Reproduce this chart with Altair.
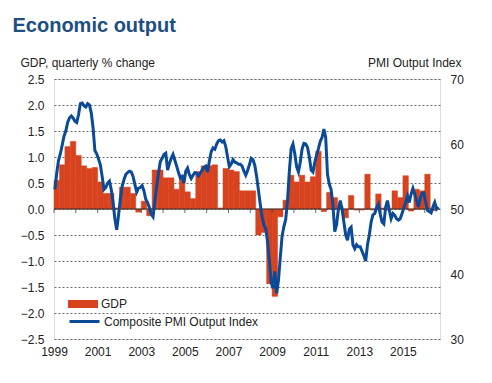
import altair as alt
import pandas as pd

FONT = "Liberation Sans"

# GDP, quarterly % change, 1999Q1 .. 2016Q2
gdp = [
    0.55, 0.85, 1.20, 1.30,   # 1999
    1.03, 0.83, 0.78, 0.80,   # 2000
    0.52, 0.30, 0.30, 0.02,   # 2001
    0.42, 0.42, 0.30, -0.06,  # 2002
    0.15, -0.13, 0.75, 0.75,  # 2003
    0.60, 0.60, 0.38, 0.65,   # 2004
    0.33, 0.20, 0.72, 0.83,   # 2005
    0.83, 0.85, 0.02, 0.78,   # 2006
    0.75, 0.72, 0.35, 0.35,   # 2007
    0.35, -0.50, -0.45, -1.44,  # 2008
    -1.68, -0.15, 0.17, 0.65,  # 2009
    0.52, 0.65, 0.52, 0.62,   # 2010
    1.11, -0.05, 0.32, 0.22,  # 2011
    0.05, -0.17, 0.26, -0.02,  # 2012
    -0.02, 0.67, -0.02, 0.29,  # 2013
    0.02, -0.02, 0.35, 0.22,  # 2014
    0.64, -0.04, 0.38, 0.35,  # 2015
    0.67, -0.03,              # 2016
]

# Composite PMI Output Index, monthly, Jan 1999 .. Aug 2016
pmi_1999 = [53.0, 55.5, 57.5, 58.5, 59.8, 61.2, 62.0, 63.3, 64.0, 64.3, 64.0, 63.5]
pmi_2000 = [63.3, 64.5, 66.2, 66.3, 65.9, 65.7, 66.2, 66.0, 64.8, 62.5, 59.0, 58.5]
pmi_2001 = [57.7, 56.8, 55.0, 53.0, 53.3, 54.0, 54.3, 53.0, 51.0, 48.5, 46.8, 49.0]
pmi_2002 = [51.5, 53.5, 54.5, 55.3, 55.6, 55.8, 55.7, 55.0, 53.8, 52.6, 53.2, 53.3]
pmi_2003 = [53.6, 52.8, 51.5, 51.0, 50.2, 49.2, 48.8, 51.2, 53.5, 55.5, 57.3, 57.8]
pmi_2004 = [58.4, 58.6, 56.0, 57.0, 57.8, 58.4, 57.5, 56.6, 55.6, 54.8, 55.0, 54.0]
pmi_2005 = [55.8, 56.3, 55.3, 54.7, 55.2, 55.6, 55.5, 55.1, 55.5, 56.0, 56.4, 56.6]
pmi_2006 = [55.7, 57.4, 58.8, 59.4, 59.2, 60.0, 60.5, 60.6, 60.3, 60.5, 59.6, 58.0]
pmi_2007 = [56.5, 56.9, 57.6, 57.2, 57.1, 56.9, 56.9, 56.6, 55.8, 55.2, 55.9, 56.8]
pmi_2008 = [57.8, 57.6, 56.7, 55.0, 52.9, 50.7, 48.8, 47.5, 47.0, 45.0, 42.0, 38.7]
pmi_2009 = [37.8, 40.4, 37.0, 39.0, 42.5, 45.8, 47.3, 48.4, 51.3, 55.8, 59.3, 60.0]
pmi_2010 = [58.5, 56.5, 55.7, 57.2, 59.2, 60.1, 60.0, 59.5, 58.0, 56.0, 55.7, 57.2]
pmi_2011 = [58.3, 59.3, 60.4, 61.0, 62.3, 61.0, 55.3, 53.8, 53.0, 50.5, 46.5, 47.6]
pmi_2012 = [50.0, 51.3, 50.0, 48.0, 46.0, 45.2, 46.9, 47.2, 44.5, 43.9, 44.5, 44.2]
pmi_2013 = [44.2, 43.5, 42.8, 42.0, 44.5, 46.0, 48.0, 49.1, 49.3, 50.2, 50.7, 49.2]
pmi_2014 = [48.0, 47.7, 50.3, 51.3, 49.8, 48.5, 49.3, 49.0, 48.5, 48.3, 48.5, 49.3]
pmi_2015 = [50.2, 51.0, 52.0, 51.0, 52.3, 53.2, 52.3, 51.3, 50.3, 51.6, 52.4, 52.5]
pmi_2016 = [51.0, 49.8, 49.6, 49.4, 50.3, 51.0, 50.0, 50.3]

pmi = (pmi_1999 + pmi_2000 + pmi_2001 + pmi_2002 + pmi_2003 + pmi_2004 + pmi_2005
       + pmi_2006 + pmi_2007 + pmi_2008 + pmi_2009 + pmi_2010 + pmi_2011 + pmi_2012
       + pmi_2013 + pmi_2014 + pmi_2015 + pmi_2016)

tick_years = list(range(1999, 2017))
label_years = list(range(1999, 2017, 2))
gdp_ticks = [2.5, 2.0, 1.5, 1.0, 0.5, 0.0, -0.5, -1.0, -1.5, -2.0, -2.5]
pmi_ticks = [30, 40, 50, 60, 70]

START = 1999
X_DOMAIN = [1999, 2016.7]
GDP_DOMAIN = [-2.5, 2.5]
PMI_DOMAIN = [30, 70]

RED = "#d8431f"
BLUE = "#0b4a96"
TXT = "#222222"

gdp_df = pd.DataFrame({
    "t0": [START + k / 4 for k in range(len(gdp))],
    "t1": [START + (k + 1) / 4 for k in range(len(gdp))],
    "gdp": gdp,
    "series": "GDP",
})
pmi_df = pd.DataFrame({
    "t": [START + (m + 0.5) / 12 for m in range(len(pmi))],
    "pmi": pmi,
    "series": "Composite PMI Output Index",
})
tick_df = pd.DataFrame({"year": tick_years, "z": [0] * len(tick_years)})
zero_df = pd.DataFrame({"v": [0]})

xscale = alt.Scale(domain=X_DOMAIN, nice=False, zero=False)
yscale = alt.Scale(domain=GDP_DOMAIN, nice=False, zero=False)

x_axis = alt.Axis(
    orient="bottom", values=label_years, format="d", title=None,
    domain=False, ticks=False, grid=False, labelPadding=7, labelFlush=False,
    labelFontSize=12, labelColor=TXT, labelFont=FONT)

y_axis = alt.Axis(
    orient="left", values=gdp_ticks, format=".1f",
    domain=False, ticks=False, grid=True,
    gridColor="#6a6a6a", gridDash=[2, 2], gridWidth=1,
    labelPadding=10, labelFontSize=12, labelColor=TXT, labelFont=FONT,
    title="GDP, quarterly % change", titleAngle=0, titleAlign="left",
    titleBaseline="alphabetic", titleX=-34, titleY=-13,
    titleFontSize=12, titleFontWeight="normal", titleColor=TXT,
    titleFont=FONT)

bars = alt.Chart(gdp_df).mark_bar(stroke=RED, strokeWidth=0.5).encode(
    x=alt.X("t0:Q", scale=xscale, axis=x_axis),
    x2="t1:Q",
    y=alt.Y("gdp:Q", scale=yscale, axis=y_axis),
    y2=alt.datum(0),
    fill=alt.Fill("series:N", scale=alt.Scale(domain=["GDP"], range=[RED]),
                  legend=alt.Legend(
                      title=None, orient="none", legendX=14, legendY=210,
                      symbolType="M-1,-0.27H1V0.27H-1Z", symbolSize=900,
                      symbolStrokeWidth=0, labelFontSize=12, labelFont=FONT,
                      labelColor=TXT, labelOffset=3, padding=0)),
)

zero_line = alt.Chart(zero_df).mark_rule(color="#333333", strokeWidth=1).encode(
    y=alt.Y("v:Q", scale=yscale, axis=y_axis))

year_ticks = alt.Chart(tick_df).mark_tick(
    orient="vertical", size=4, thickness=1, color="#333333", yOffset=2).encode(
    x=alt.X("year:Q", scale=xscale, axis=x_axis),
    y=alt.Y("z:Q", scale=yscale, axis=y_axis),
)

left = alt.layer(bars, zero_line, year_ticks)

line = alt.Chart(pmi_df).mark_line(strokeWidth=3).encode(
    x=alt.X("t:Q", scale=xscale, axis=x_axis),
    y=alt.Y("pmi:Q", scale=alt.Scale(domain=PMI_DOMAIN, nice=False, zero=False),
            axis=alt.Axis(
                orient="right", values=pmi_ticks, format="d",
                domain=False, ticks=False, grid=False,
                labelPadding=10, labelFontSize=12, labelColor=TXT, labelFont=FONT,
                title="PMI Output Index", titleAngle=0, titleAlign="right",
                titleBaseline="alphabetic", titleX=21, titleY=-13,
                titleFontSize=12, titleFontWeight="normal", titleColor=TXT,
                titleFont=FONT)),
    stroke=alt.Stroke("series:N",
                      scale=alt.Scale(domain=["Composite PMI Output Index"], range=[BLUE]),
                      legend=alt.Legend(
                          title=None, orient="none", legendX=14, legendY=226,
                          symbolType="stroke", symbolSize=900, symbolStrokeWidth=3,
                          labelFontSize=12, labelFont=FONT, labelColor=TXT,
                          labelOffset=3, padding=0)),
)

chart = alt.layer(left, line).resolve_scale(
    y="independent", fill="independent", stroke="independent"
).properties(
    width=386,
    height=260,
    autosize=alt.AutoSizeParams(type="none"),
    padding={"left": 46, "top": 71, "right": 44, "bottom": 30},
    title=alt.TitleParams(
        "Economic output", anchor="start", frame="group", dx=-41.5,
        fontSize=20, fontWeight="bold", color="#1d4f80", font=FONT, offset=20),
).configure_view(stroke=None).configure(background="white")

chart.save("out.html", embed_options={"renderer": "svg", "actions": False})
